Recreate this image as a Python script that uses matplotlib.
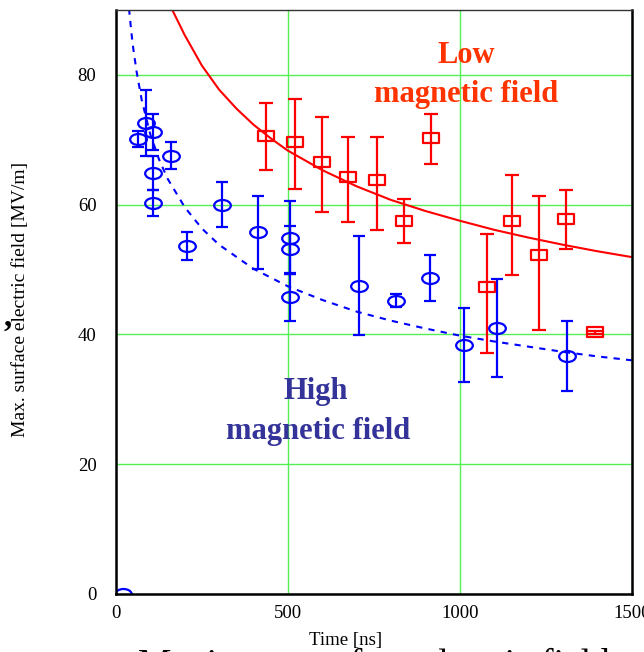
import numpy as np
import matplotlib.pyplot as plt
from matplotlib.path import Path
from matplotlib.transforms import Affine2D

plt.rcParams['font.family'] = ['Liberation Serif', 'DejaVu Serif']

# High magnetic field data (circles)
high_t = [65, 87, 107, 107, 107, 160, 208, 308, 413, 507, 507, 507, 708, 814, 912, 1011, 1108, 1311]
high_e = [70.1, 72.6, 71.2, 64.9, 60.3, 67.5, 53.6, 60.0, 55.7, 54.9, 53.1, 45.7, 47.5, 45.2, 48.7, 38.4, 41.0, 36.6]
high_err = [1.2, 5.1, 2.8, 2.6, 2.0, 2.1, 2.1, 3.4, 5.6, 5.6, 3.6, 3.6, 7.6, 1.0, 3.5, 5.7, 7.6, 5.4]

# Low magnetic field data (squares)
low_t = [437, 522, 600, 675, 760, 838, 915, 1078, 1153, 1231, 1309, 1393]
low_e = [70.6, 69.7, 66.6, 64.2, 63.7, 57.5, 70.2, 47.3, 57.4, 52.2, 57.8, 40.3]
low_err_lo = [5.3, 7.3, 7.8, 6.9, 7.7, 3.5, 3.9, 10.1, 8.3, 11.6, 4.6, 0.2]
low_err_hi = [5.1, 6.6, 6.9, 6.2, 6.7, 3.3, 3.7, 8.2, 7.1, 9.1, 4.4, 0.2]

# stray point at the origin
origin_t = [20]
origin_e = [0]

# trend curves
low_fit_t = [160, 200, 250, 300, 350, 400, 450, 500, 600, 700, 800, 900, 1000, 1100, 1200, 1300, 1400, 1500]
low_fit_e = [90.4, 86.1, 81.4, 77.7, 74.8, 72.3, 70.2, 68.3, 65.3, 62.8, 60.7, 59.0, 57.5, 56.1, 54.9, 53.8, 52.8, 51.9]
high_fit_t = [38, 45, 50, 60, 75, 100, 125, 150, 200, 250, 300, 400, 500, 600, 700, 800, 900, 1000, 1100, 1200, 1300, 1400, 1500]
high_fit_e = [90.2, 86.5, 84.2, 80.5, 76.1, 70.8, 67.0, 64.0, 59.6, 56.3, 53.8, 50.1, 47.4, 45.3, 43.5, 42.1, 40.9, 39.8, 38.9, 38.1, 37.3, 36.6, 36.0]

# squashed markers like in the original
ellipse = Path.unit_circle().transformed(Affine2D().scale(1, 0.66))
rect = Path([(-1, -0.68), (1, -0.68), (1, 0.68), (-1, 0.68), (-1, -0.68)],
            [Path.MOVETO, Path.LINETO, Path.LINETO, Path.LINETO, Path.CLOSEPOLY])

fig = plt.figure(figsize=(6.44, 6.52), dpi=100)
ax = fig.add_axes([0.180, 0.089, 0.801, 0.896])

ax.plot(low_fit_t, low_fit_e, color='red', lw=1.5)
ax.plot(high_fit_t, high_fit_e, color='blue', lw=1.5, linestyle=(0, (3, 3)))

ax.errorbar(high_t, high_e, yerr=high_err, fmt='none', ecolor='blue',
            elinewidth=1.6, capsize=4.5, capthick=1.6)
ax.plot(high_t, high_e, linestyle='none', marker=ellipse, markersize=12,
        mfc='none', mec='blue', mew=1.6)
ax.plot(origin_t, origin_e, linestyle='none', marker=ellipse, markersize=12,
        mfc='none', mec='blue', mew=1.6)

ax.errorbar(low_t, low_e, yerr=[low_err_lo, low_err_hi], fmt='none', ecolor='red',
            elinewidth=1.6, capsize=5, capthick=1.6)
ax.plot(low_t, low_e, linestyle='none', marker=rect, markersize=11,
        mfc='none', mec='red', mew=1.6)

ax.set_xlim(0, 1500)
ax.set_ylim(0, 90)
ax.set_xticks([0, 500, 1000, 1500])
ax.set_yticks([0, 20, 40, 60, 80])
ax.tick_params(length=0, labelsize=13.5)
ax.tick_params(axis='y', pad=14)
ax.tick_params(axis='x', pad=8)
ax.grid(True, color='#55ee55', lw=1)
ax.set_axisbelow(True)
for s in ['left', 'bottom', 'right']:
    ax.spines[s].set_linewidth(1.8)
ax.spines['top'].set_linewidth(1.0)
ax.spines['top'].set_color('#333333')

# annotations
ax.text(1018, 83.0, 'Low', color='#ff3300', fontsize=22, fontweight='bold',
        ha='center', va='center')
ax.text(1018, 77.0, 'magnetic field', color='#ff3300', fontsize=22,
        fontweight='bold', ha='center', va='center')
ax.text(580, 31.2, 'High', color='#333399', fontsize=22, fontweight='bold',
        ha='center', va='center')
ax.text(588, 25.0, 'magnetic field', color='#333399', fontsize=22,
        fontweight='bold', ha='center', va='center')

fig.text(0.032, 0.541, 'Max. surface electric field [MV/m]', rotation=90,
         ha='center', va='center', fontsize=14)
fig.text(0.537, 0.017, 'Time [ns]', ha='center', va='center', fontsize=13.5)
fig.text(0.581, -0.036, 'Maximum surface electric field', ha='center',
         va='baseline', fontsize=27)
fig.text(0.012, 0.514, ',', ha='center', va='center', fontsize=24,
         fontweight='bold')

fig.savefig('out.png', dpi=100)
